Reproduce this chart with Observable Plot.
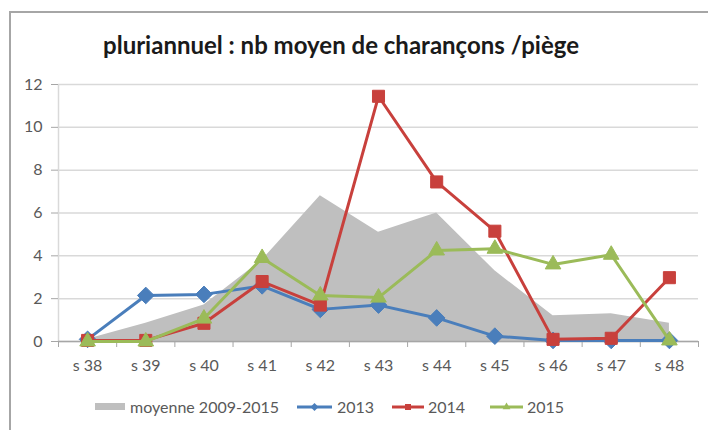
<!DOCTYPE html>
<html><head><meta charset="utf-8">
<script src="https://cdn.jsdelivr.net/npm/d3@7"></script>
<script src="https://cdn.jsdelivr.net/npm/@observablehq/plot@0.6"></script>
<style>
body{margin:0;background:#fff;}
#wrap{position:relative;width:708px;height:430px;overflow:hidden;font-family:Lato, sans-serif;background:#fff;}
#border{position:absolute;left:9px;top:11px;width:740px;height:460px;border:2px solid #a6a6a6;box-sizing:border-box;}
#title{position:absolute;left:0;width:682px;top:30px;text-align:center;font-weight:bold;font-size:24px;color:#1a1a1a;line-height:30px;white-space:nowrap;}
#chart{position:absolute;left:0;top:0;}
#legend{position:absolute;left:0;top:397px;width:708px;height:20px;font-size:16px;color:#595959;line-height:20px;white-space:nowrap;}
#legend svg, #legend span{position:absolute;top:0;}
</style></head>
<body><div id="wrap"><div id="border"></div><div id="chart"></div><div id="title"></div><div id="legend"></div></div>
<script>
const weeks = ["s 38","s 39","s 40","s 41","s 42","s 43","s 44","s 45","s 46","s 47","s 48"];
const moyenne = [0.1, 0.85, 1.7, 3.8, 6.8, 5.1, 6.0, 3.3, 1.2, 1.3, 0.85];
const y2013 = [0.1, 2.15, 2.2, 2.6, 1.5, 1.7, 1.1, 0.25, 0.05, 0.05, 0.05];
const y2014 = [0.05, 0.05, 0.85, 2.8, 1.7, 11.45, 7.45, 5.15, 0.1, 0.15, 2.98];
const y2015 = [0, 0, 1.07, 3.9, 2.15, 2.05, 4.25, 4.33, 3.6, 4.05, 0.05];
const yTicks = [0, 2, 4, 6, 8, 10, 12];
const seriesNames = ["moyenne 2009-2015", "2013", "2014", "2015"];
const titleText = "pluriannuel : nb moyen de charançons /piège";

const colors = {area: "#bfbfbf", b: "#4a7ebb", r: "#c8403c", g: "#9bbb59"};
const rows = vals => vals.map((v, i) => ({i, v}));
const idx = weeks.map((_, i) => i);
const bounds = d3.range(-0.5, 11, 1);

function series(vals, color, symbol, r) {
  return [
    Plot.line(rows(vals), {x: "i", y: "v", stroke: color, strokeWidth: 3}),
    Plot.dot(rows(vals), {x: "i", y: "v", symbol, fill: color, stroke: color, strokeWidth: 1, r})
  ];
}

const plot = Plot.plot({
  width: 708, height: 430,
  marginLeft: 58, marginRight: 10, marginTop: 84, marginBottom: 89,
  style: {fontFamily: "Lato, sans-serif", fontSize: "16px", color: "#595959", background: "transparent", overflow: "visible"},
  x: {type: "linear", domain: [-0.5, 10.5], label: null, axis: null},
  y: {domain: [0, 12], label: null, axis: null},
  marks: [
    Plot.ruleY(yTicks, {stroke: "#d9d9d9", strokeWidth: 1.5}),
    Plot.areaY(rows(moyenne), {x: "i", y: "v", fill: colors.area}),
    Plot.ruleX([-0.5], {stroke: "#d9d9d9", strokeWidth: 1.5}),
    Plot.ruleY([0], {stroke: "#a6a6a6", strokeWidth: 1.5}),
    Plot.axisY(yTicks, {tickSize: 7, tickPadding: 9, stroke: "#a6a6a6", fill: "#595959"}),
    Plot.axisX(bounds, {tickSize: 6, tickFormat: () => "", stroke: "#a6a6a6"}),
    Plot.axisX(idx, {tickSize: 0, tickPadding: 18, tickFormat: i => weeks[i], fill: "#595959"}),
    ...series(y2013, colors.b, "diamond2", 7.5),
    ...series(y2014, colors.r, "square", 6.8),
    ...series(y2015, colors.g, "triangle", 5.8)
  ]
});
document.getElementById("chart").appendChild(plot);
document.getElementById("title").textContent = titleText;

const leg = d3.select("#legend");
const legendSpecs = [
  {name: seriesNames[0], type: "area", color: colors.area, sx: 95, sw: 30, tx: 130},
  {name: seriesNames[1], type: "line", color: colors.b, sym: d3.symbolDiamond2, size: 40, sx: 297, sw: 35, tx: 337},
  {name: seriesNames[2], type: "line", color: colors.r, sym: d3.symbolSquare, size: 36, sx: 392, sw: 32, tx: 428},
  {name: seriesNames[3], type: "line", color: colors.g, sym: d3.symbolTriangle, size: 26, sx: 490, sw: 33, tx: 527}
];
legendSpecs.forEach(s => {
  const sv = leg.append("svg").attr("width", s.sw).attr("height", 20).style("left", s.sx + "px");
  if (s.type === "area") {
    sv.append("rect").attr("x", 0).attr("y", 6).attr("width", s.sw).attr("height", 7).attr("fill", s.color);
  } else {
    sv.append("line").attr("x1", 0).attr("x2", s.sw).attr("y1", 10).attr("y2", 10).attr("stroke", s.color).attr("stroke-width", 3);
    sv.append("path").attr("d", d3.symbol(s.sym, s.size)()).attr("transform", `translate(${s.sw / 2},10)`).attr("fill", s.color);
  }
  leg.append("span").style("left", s.tx + "px").text(s.name);
});
</script></body></html>
